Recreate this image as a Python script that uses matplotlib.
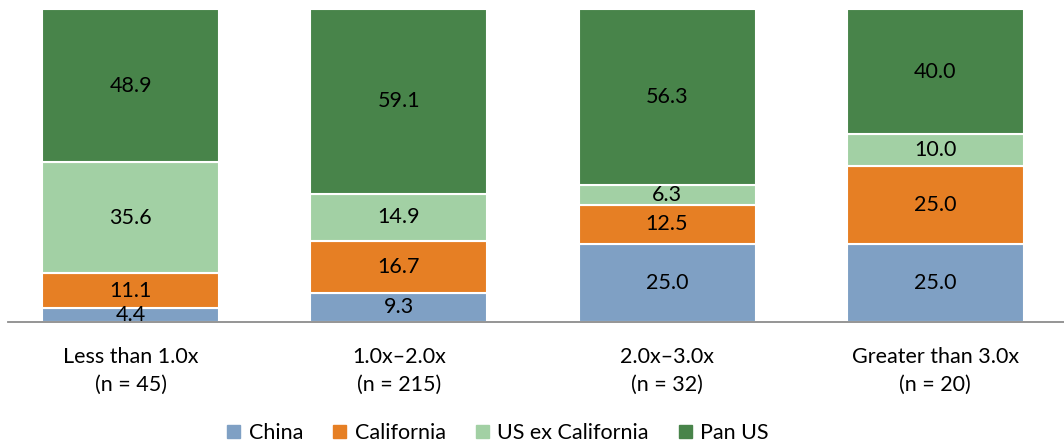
import numpy as np
import matplotlib.pyplot as plt
from matplotlib.patches import Patch

plt.rcParams['font.family'] = ['Lato', 'DejaVu Sans']

categories = ['Less than 1.0x\n(n = 45)', '1.0x\u20132.0x\n(n = 215)',
              '2.0x\u20133.0x\n(n = 32)', 'Greater than 3.0x\n(n = 20)']
series = ['China', 'California', 'US ex California', 'Pan US']
china = [4.4, 9.3, 25.0, 25.0]
california = [11.1, 16.7, 12.5, 25.0]
us_ex_ca = [35.6, 14.9, 6.3, 10.0]
pan_us = [48.9, 59.1, 56.3, 40.0]
colors = ['#7FA0C4', '#E67F24', '#A2D0A4', '#48844A']

FS = 15.5

fig = plt.figure(figsize=(10.64, 4.46), dpi=100)
ax = fig.add_axes([8 / 1064, 124 / 446, 1056 / 1064, 313 / 446])

x = np.arange(len(categories))
bottom = np.zeros(len(categories))
for name, vals, col in zip(series, [china, california, us_ex_ca, pan_us], colors):
    vals = np.array(vals)
    ax.bar(x, vals, width=0.66, bottom=bottom, color=col, edgecolor='white',
           linewidth=1.5, label=name)
    for xi, b, v in zip(x, bottom, vals):
        ax.text(xi, b + v / 2, f'{v:.1f}', ha='center', va='center',
                fontsize=FS, color='black')
    bottom += vals

ax.set_xlim(-0.457, 3.48)
ax.set_ylim(0, 100)
for s in ['top', 'right', 'left']:
    ax.spines[s].set_visible(False)
ax.spines['bottom'].set_color('#8C8C8C')
ax.spines['bottom'].set_linewidth(1.3)
ax.set_yticks([])
ax.set_xticks(x)
ax.set_xticklabels(categories, fontsize=FS, linespacing=1.5)
ax.tick_params(axis='x', length=0, pad=18)

handles = [Patch(color=c, label=s) for s, c in zip(series, colors)]
fig.legend(handles=handles, loc='center', bbox_to_anchor=(498 / 1064, 1 - 433 / 446),
           ncol=4, frameon=False, fontsize=FS, handlelength=0.6, handleheight=0.6,
           handletextpad=0.4, columnspacing=1.4)

fig.savefig('out.png', dpi=100)
